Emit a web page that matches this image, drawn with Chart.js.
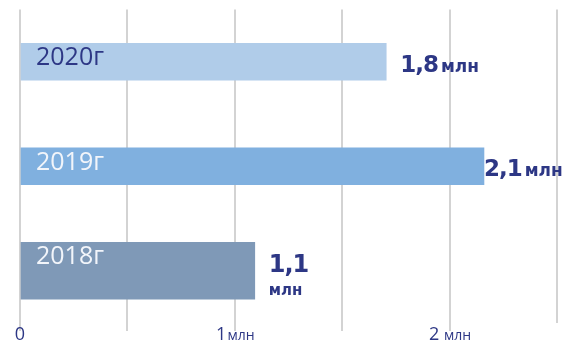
<!DOCTYPE html>
<html>
<head>
<meta charset="utf-8">
<script src="https://cdn.jsdelivr.net/npm/chart.js@4.4.1/dist/chart.umd.min.js"></script>
<style>
  html, body { margin: 0; padding: 0; background: #ffffff; }
  #wrap { width: 562px; height: 342px; }
</style>
</head>
<body>
<div id="wrap"><canvas id="bars" width="562" height="342"></canvas></div>
<script>
// ---- Data (top to bottom) ----
const years = ['2020г', '2019г', '2018г'];
const values = [1.705, 2.16, 1.093];
const valueTexts = ['1,8', '2,1', '1,1'];
const unitText = 'млн';

// x axis labels (value -> [number, unit])
const tickValues = [0, 1, 2];
const tickNumbers = ['0', '1', '2'];
const tickUnits = ['', 'млн', ' млн'];

// ---- Styles ----
const NAVY = '#2D3785';
const VALUE_FONT = 'DejaVu Sans, Verdana, sans-serif';
const barColors = ['#B0CCE9', '#80B0DF', '#7F99B7'];
const yearColors = [NAVY, '#F2F5FA', '#F2F5FA'];
const thickBar = [false, false, true];

// value label placement, relative to the bar end / bar centre
const valueStyle = [
    { dx: 14, dy: 10, num: 23, unit: 17, gap: 3, below: false },
    { dx: 0, dy: 10, num: 23, unit: 17, gap: 3, below: false },
    { dx: 14, dy: 1, num: 24, unit: 15, gap: 0, below: true }
];

// Two datasets so the 2018 bar can be thicker
const thinData = values.map(function (v, i) { return thickBar[i] ? null : v; });
const thickData = values.map(function (v, i) { return thickBar[i] ? v : null; });

// ---- Plugin: year names inside bars and values after them ----
const barText = {
    id: 'barText',
    afterDatasetsDraw: function (chart) {
        const ctx = chart.ctx;
        ctx.save();
        years.forEach(function (name, i) {
            const dsIndex = thickBar[i] ? 1 : 0;
            const bar = chart.getDatasetMeta(dsIndex).data[i];
            if (!bar) return;
            const top = bar.y - bar.height / 2;

            // year label
            ctx.font = '400 25px "Open Sans"';
            ctx.fillStyle = yearColors[i];
            ctx.textAlign = 'left';
            ctx.textBaseline = 'alphabetic';
            ctx.fillText(name, chart.chartArea.left + 16, top + 22);

            // value label
            const s = valueStyle[i];
            const x0 = bar.x + s.dx;
            const y0 = bar.y + s.dy;
            ctx.fillStyle = NAVY;
            ctx.font = 'bold ' + s.num + 'px ' + VALUE_FONT;
            ctx.letterSpacing = '-1px';
            ctx.fillText(valueTexts[i], x0, y0);
            const w = ctx.measureText(valueTexts[i]).width;
            ctx.font = 'bold ' + s.unit + 'px ' + VALUE_FONT;
            ctx.letterSpacing = '0px';
            if (s.below) {
                ctx.fillText(unitText, x0, y0 + 23);
            } else {
                ctx.fillText(unitText, x0 + w + s.gap, y0);
            }
        });
        ctx.restore();
    }
};

// ---- Plugin: x axis labels with small unit ----
const axisText = {
    id: 'axisText',
    afterDraw: function (chart) {
        const ctx = chart.ctx;
        const xs = chart.scales.x;
        ctx.save();
        ctx.fillStyle = NAVY;
        ctx.textBaseline = 'alphabetic';
        ctx.textAlign = 'left';
        tickValues.forEach(function (v, i) {
            const px = xs.getPixelForValue(v);
            ctx.font = '400 18px "Open Sans"';
            const wn = ctx.measureText(tickNumbers[i]).width;
            ctx.font = '400 14px "Open Sans"';
            const wu = ctx.measureText(tickUnits[i]).width;
            const x = px - (wn + wu) / 2;
            ctx.font = '400 18px "Open Sans"';
            ctx.fillText(tickNumbers[i], x, 340);
            ctx.font = '400 14px "Open Sans"';
            ctx.fillText(tickUnits[i], x + wn + 1, 340);
        });
        ctx.restore();
    }
};

function drawChart() {
    new Chart(document.getElementById('bars').getContext('2d'), {
        type: 'bar',
        data: {
            labels: years,
            datasets: [
                {
                    data: thinData,
                    backgroundColor: barColors,
                    barThickness: 37,
                    grouped: false
                },
                {
                    data: thickData,
                    backgroundColor: barColors,
                    barThickness: 57,
                    grouped: false
                }
            ]
        },
        options: {
            indexAxis: 'y',
            responsive: false,
            animation: false,
            events: [],
            layout: {
                padding: { left: 20, right: 5, top: 9.5, bottom: 11 }
            },
            scales: {
                x: {
                    min: 0,
                    max: 2.5,
                    ticks: { display: false, stepSize: 0.5 },
                    border: { display: false },
                    grid: {
                        color: '#D3D3D3',
                        lineWidth: 2,
                        drawTicks: true,
                        tickLength: 8,
                        tickColor: function (c) {
                            return c.index === 5 ? 'rgba(0,0,0,0)' : '#D3D3D3';
                        }
                    }
                },
                y: {
                    display: false
                }
            },
            plugins: {
                legend: { display: false },
                tooltip: { enabled: false }
            }
        },
        plugins: [barText, axisText]
    });
}

// make sure the fonts are ready before drawing on the canvas
Promise.all([
    document.fonts.load('bold 23px "DejaVu Sans"', '1,8млн'),
    document.fonts.load('400 25px "Open Sans"', '2020г')
]).then(drawChart, drawChart);
</script>
</body>
</html>
